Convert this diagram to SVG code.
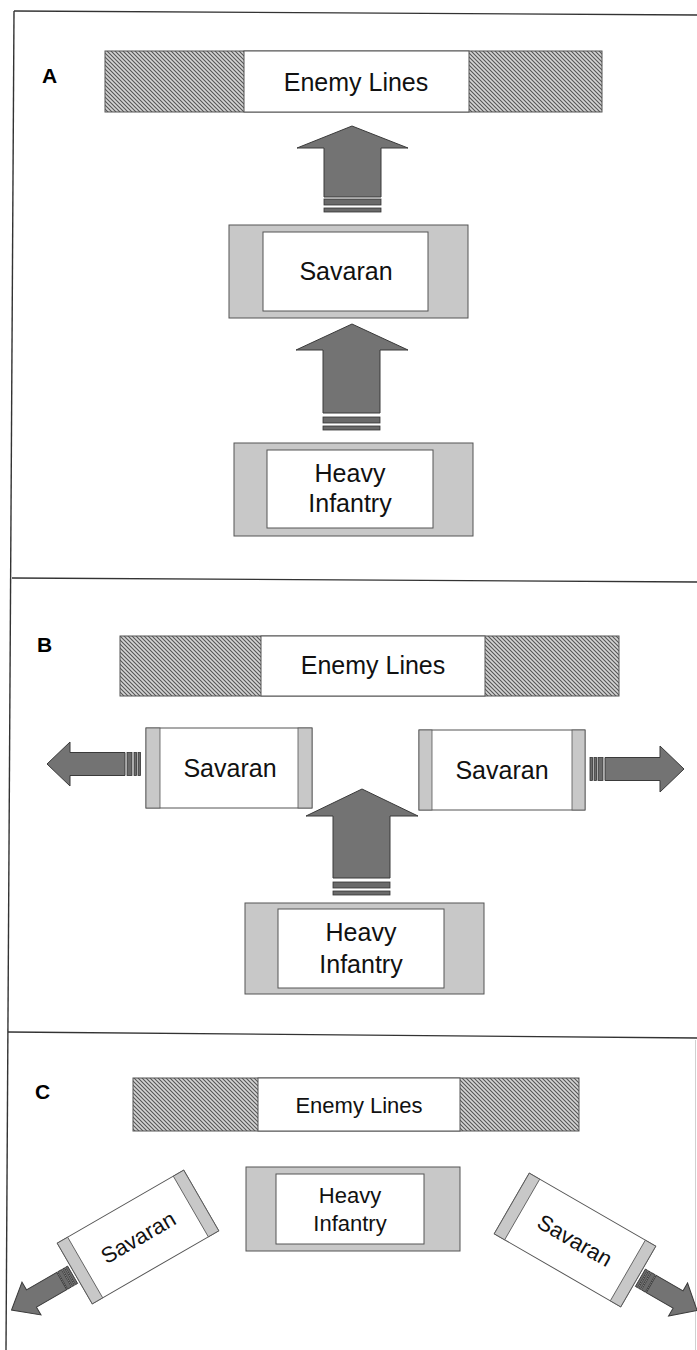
<svg xmlns="http://www.w3.org/2000/svg" width="697" height="1350" viewBox="0 0 697 1350">
<style>
.frame{stroke:#333;stroke-width:1.4;fill:none}
.faint{stroke:#d0d0d0;stroke-width:1;fill:none}
.hatchbox{fill:url(#hatch);stroke:#555;stroke-width:1}
.white{fill:#fff;stroke:#555;stroke-width:1}
.gray{fill:#c8c8c8;stroke:#555;stroke-width:1}
.bar{fill:#c8c8c8;stroke:#555;stroke-width:0.8}
.arrow{fill:#737373;stroke:#3a3a3a;stroke-width:1}
.stripe{fill:#6a6a6a;stroke:#333;stroke-width:0.8}
.lbl{font-family:"Liberation Sans",Arial,sans-serif;font-size:25px;fill:#111;text-anchor:middle}
.lblc{font-family:"Liberation Sans",Arial,sans-serif;font-size:22px;fill:#111;text-anchor:middle}
.tag{font-family:"Liberation Sans",Arial,sans-serif;font-weight:900;font-size:21px;fill:#000}
</style>
<defs>
<pattern id="hatch" width="4" height="4" patternUnits="userSpaceOnUse">
<rect width="4" height="4" fill="#d4d4d4"/>
<path d="M-1,-1 L5,5 M-1,3 L1,5 M3,-1 L5,1" stroke="#555" stroke-width="1.1"/>
</pattern>
</defs>
<rect width="697" height="1350" fill="#fff"/>
<g id="frame">
<line class="frame" x1="14" y1="11" x2="697" y2="15"/>
<line class="frame" x1="14" y1="11" x2="6" y2="1350"/>
<line class="frame" x1="12" y1="578" x2="697" y2="582"/>
<line class="frame" x1="8" y1="1032" x2="697" y2="1038"/>
<line class="faint" x1="695.5" y1="1040" x2="695.5" y2="1350"/>
</g>
<g id="panel-labels">
<text class="tag" x="42" y="83">A</text>
<text class="tag" x="37" y="652">B</text>
<text class="tag" x="35" y="1099">C</text>
</g>
<!-- Panel A -->
<g id="a-enemy">
<rect class="hatchbox" x="105" y="51" width="497" height="61"/>
<rect class="white" x="244" y="51" width="225" height="61"/>
<text class="lbl" x="356" y="91">Enemy Lines</text>
</g>
<g id="a-savaran">
<rect class="gray" x="229" y="225" width="239" height="93"/>
<rect class="white" x="263" y="232" width="165" height="79"/>
<text class="lbl" x="346" y="280">Savaran</text>
</g>
<g id="a-infantry">
<rect class="gray" x="234" y="443" width="239" height="93"/>
<rect class="white" x="267" y="450" width="166" height="78"/>
<text class="lbl" x="350" y="482">Heavy</text>
<text class="lbl" x="350" y="512">Infantry</text>
</g>
<!-- Panel B -->
<g id="b-enemy">
<rect class="hatchbox" x="120" y="636" width="499" height="60"/>
<rect class="white" x="261" y="636" width="224" height="60"/>
<text class="lbl" x="373" y="674">Enemy Lines</text>
</g>
<g id="b-savaran-left">
<rect class="white" x="146" y="728" width="166" height="80"/>
<rect class="bar" x="146" y="728" width="14" height="80"/>
<rect class="bar" x="298" y="728" width="14" height="80"/>
<text class="lbl" x="230" y="777">Savaran</text>
</g>
<g id="b-savaran-right">
<rect class="white" x="419" y="730" width="166" height="80"/>
<rect class="bar" x="419" y="730" width="13" height="80"/>
<rect class="bar" x="572" y="730" width="13" height="80"/>
<text class="lbl" x="502" y="779">Savaran</text>
</g>
<g id="b-infantry">
<rect class="gray" x="245" y="903" width="239" height="91"/>
<rect class="white" x="278" y="909" width="166" height="79"/>
<text class="lbl" x="361" y="941">Heavy</text>
<text class="lbl" x="361" y="973">Infantry</text>
</g>
<!-- Panel C -->
<g id="c-enemy">
<rect class="hatchbox" x="133" y="1078" width="446" height="53"/>
<rect class="white" x="258" y="1078" width="202" height="53"/>
<text class="lblc" x="359" y="1113">Enemy Lines</text>
</g>
<g id="c-infantry">
<rect class="gray" x="246" y="1167" width="214" height="84"/>
<rect class="white" x="276" y="1174" width="148" height="70"/>
<text class="lblc" x="350" y="1203">Heavy</text>
<text class="lblc" x="350" y="1231">Infantry</text>
</g>
<g id="c-savaran-left" transform="translate(138,1237) rotate(-30)">
<rect class="white" x="-73" y="-35" width="146" height="70"/>
<rect class="bar" x="-73" y="-35" width="12" height="70"/>
<rect class="bar" x="61" y="-35" width="12" height="70"/>
<text class="lblc" x="0" y="8">Savaran</text>
</g>
<g id="c-savaran-right" transform="translate(575,1240) rotate(30)">
<rect class="white" x="-73" y="-35" width="146" height="70"/>
<rect class="bar" x="-73" y="-35" width="12" height="70"/>
<rect class="bar" x="61" y="-35" width="12" height="70"/>
<text class="lblc" x="0" y="8">Savaran</text>
</g>
<!-- Connectors -->
<g id="connectors">
<g id="a-arrow-1">
<polygon class="arrow" points="352,126 408,148 381,148 381,197 324,197 324,148 297,148"/>
<rect class="stripe" x="324" y="199" width="57" height="6"/>
<rect class="stripe" x="324" y="208" width="57" height="4"/>
</g>
<g id="a-arrow-2">
<polygon class="arrow" points="352,324 408,350 380,350 380,413 323,413 323,350 296,350"/>
<rect class="stripe" x="323" y="417" width="57" height="6"/>
<rect class="stripe" x="323" y="426" width="57" height="4"/>
</g>
<g id="b-arrow-up">
<polygon class="arrow" points="362,789 418,816 390,816 390,878 333,878 333,816 306,816"/>
<rect class="stripe" x="333" y="882" width="57" height="6"/>
<rect class="stripe" x="333" y="891" width="57" height="4"/>
</g>
<g id="b-arrow-left">
<polygon class="arrow" points="47,764 70,742 70,752.5 125,752.5 125,775.5 70,775.5 70,786"/>
<rect class="stripe" x="127" y="752.5" width="5" height="23"/>
<rect class="stripe" x="134" y="752.5" width="2.5" height="23"/>
<rect class="stripe" x="138" y="752.5" width="2.5" height="23"/>
</g>
<g id="b-arrow-right">
<polygon class="arrow" points="684,769 660,746 660,757.5 605,757.5 605,780.5 660,780.5 660,792"/>
<rect class="stripe" x="590" y="757.5" width="2.5" height="23"/>
<rect class="stripe" x="594" y="757.5" width="2.5" height="23"/>
<rect class="stripe" x="598" y="757.5" width="5" height="23"/>
</g>
<g id="c-arrow-left" transform="translate(138,1237) rotate(-30)">
<rect class="stripe" x="-78" y="-10" width="2.5" height="20"/>
<rect class="stripe" x="-81.5" y="-10" width="2.5" height="20"/>
<rect class="stripe" x="-87" y="-10" width="4.5" height="20"/>
<polygon class="arrow" points="-146,0 -123,-19 -123,-10 -88,-10 -88,10 -123,10 -123,19"/>
</g>
<g id="c-arrow-right" transform="translate(575,1240) rotate(30)">
<rect class="stripe" x="75.5" y="-10" width="2.5" height="20"/>
<rect class="stripe" x="79" y="-10" width="2.5" height="20"/>
<rect class="stripe" x="82.5" y="-10" width="4.5" height="20"/>
<polygon class="arrow" points="141,0 119,-19 119,-10 88,-10 88,10 119,10 119,19"/>
</g>
</g>
</svg>
